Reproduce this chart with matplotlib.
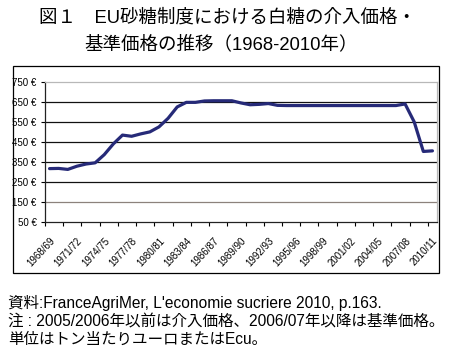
import matplotlib
matplotlib.use("Agg")
import matplotlib.pyplot as plt
from matplotlib.patches import Rectangle
from matplotlib.ticker import FixedLocator, NullFormatter

plt.rcParams['font.family'] = ['Liberation Sans', 'DejaVu Sans']

# ---- data ----
seasons = [f"{y}/{str(y + 1)[-2:]}" for y in range(1968, 2011)]
prices = [316, 317, 312, 328, 339, 345, 386, 440, 484, 478,
          490, 500, 525, 568, 625, 648, 648, 655, 656, 656,
          656, 645, 636, 638, 642, 633, 632, 632, 632, 632,
          632, 632, 632, 632, 632, 632, 632, 632, 632, 640,
          550, 402, 405]
yticks = [50, 150, 250, 350, 450, 550, 650, 750]
ytick_labels = [f"{v} €" for v in yticks]
label_step = 3

title1 = "図１　EU砂糖制度における白糖の介入価格・"
title2 = "基準価格の推移（1968-2010年）"
notes = ["資料:FranceAgriMer, L'economie sucriere 2010, p.163.",
         "注 : 2005/2006年以前は介入価格、2006/07年以降は基準価格。",
         "単位はトン当たりユーロまたはEcu。"]

W, H = 452, 359
fig = plt.figure(figsize=(W / 100, H / 100), dpi=100)
fig.patch.set_facecolor("white")

def fx(px):
    return px / W

def fy(py):
    return 1 - py / H

# outer chart box
fig.add_artist(Rectangle((fx(13.5), fy(272.5)), fx(439) - fx(13.5), fy(66) - fy(272.5),
                         transform=fig.transFigure, fill=False, ec="black", lw=0.9))

left, right, top, bottom = 45, 437, 82, 221.7
ax = fig.add_axes([fx(left), fy(bottom), fx(right) - fx(left), fy(top) - fy(bottom)])

x = list(range(len(seasons)))
ax.plot(x, prices, color="#262a78", lw=2.3, solid_capstyle="round", solid_joinstyle="round", zorder=3)

ax.set_xlim(-0.5, len(seasons) - 0.5)
ax.set_ylim(50, 750)

# gridlines
for v in yticks[1:-1]:
    c = "#8c827c" if v == 150 else "#111111"
    ax.axhline(v, color=c, lw=0.9, zorder=1)

ax.set_yticks(yticks)
ax.set_yticklabels(ytick_labels, fontsize=7)
ax.tick_params(axis="y", length=3, width=0.8, pad=3, colors="black")

# x ticks at boundaries every 2 categories
ax.xaxis.set_major_locator(FixedLocator([i - 0.5 for i in range(0, len(seasons), 2)]))
ax.xaxis.set_major_formatter(NullFormatter())
ax.tick_params(axis="x", which="major", length=3, width=0.8)
lab_pos = list(range(0, len(seasons), label_step))
ax.xaxis.set_minor_locator(FixedLocator(lab_pos))
ax.set_xticklabels([seasons[i] for i in lab_pos], minor=True, fontsize=7,
                   rotation=47, ha="right", va="top", rotation_mode="anchor")
ax.tick_params(axis="x", which="minor", length=0, pad=10)

for s in ["top", "right"]:
    ax.spines[s].set_color("#b8b8b8")
    ax.spines[s].set_linewidth(0.9)
for s in ["left", "bottom"]:
    ax.spines[s].set_color("#222222")
    ax.spines[s].set_linewidth(0.9)

cjk = ['Liberation Sans', 'Noto Sans CJK JP']
fig.text(fx(227), fy(18), title1, ha="center", va="center", fontsize=13.3, family=cjk)
fig.text(fx(221), fy(44.5), title2, ha="center", va="center", fontsize=13.3, family=cjk)
for yy, t in zip([303, 321.5, 339], notes):
    fig.text(fx(8), fy(yy), t, ha="left", va="center", fontsize=11.2, family=cjk)

fig.savefig("out.png", dpi=100)
